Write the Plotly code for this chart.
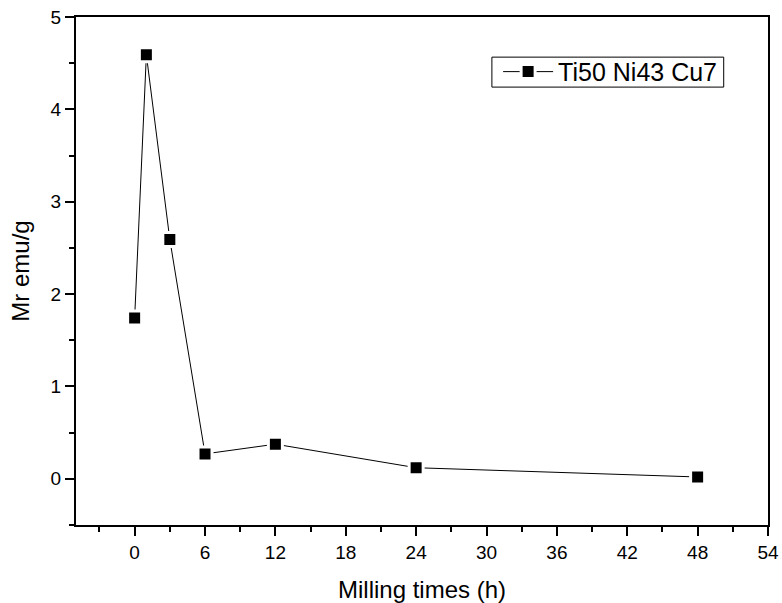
import plotly.graph_objects as go

# Remanent magnetisation vs. milling time
milling_h = [0, 1, 3, 6, 12, 24, 48]
mr_emu_g = [1.74, 4.59, 2.59, 0.27, 0.375, 0.12, 0.02]
series_name = "Ti50 Ni43 Cu7"

x_ticks = [0, 6, 12, 18, 24, 30, 36, 42, 48, 54]
y_ticks = [0, 1, 2, 3, 4, 5]
x_range = [-5, 54]
y_range = [-0.5, 5]

FONT = "Liberation Sans, Arial, sans-serif"

fig = go.Figure()
fig.add_trace(go.Scatter(
    x=milling_h, y=mr_emu_g, name=series_name,
    mode="lines+markers",
    line=dict(color="black", width=1),
    marker=dict(symbol="square", size=14, color="black",
                line=dict(color="white", width=3)),
    showlegend=True,
))

axis_common = dict(
    showline=True, linecolor="black", linewidth=2,
    showgrid=False, zeroline=False, automargin=False,
    ticks="outside", ticklen=9, tickwidth=2, tickcolor="black",
    tickfont=dict(family=FONT, size=19, color="black"),
)

fig.update_layout(
    width=782, height=603,
    margin=dict(l=76, r=14, t=17, b=78),
    paper_bgcolor="white", plot_bgcolor="white",
    font=dict(family=FONT, color="black"),
    xaxis=dict(
        **axis_common,
        range=x_range, tickvals=x_ticks, ticktext=[str(v) for v in x_ticks],
        minor=dict(dtick=3, tick0=0, ticks="outside", ticklen=5,
                   tickwidth=2, tickcolor="black"),
        mirror=True,
        title=dict(text="Milling times (h)", font=dict(family=FONT, size=24),
                   standoff=20),
    ),
    yaxis=dict(
        **axis_common,
        range=y_range, tickvals=y_ticks, ticktext=[str(v) for v in y_ticks],
        minor=dict(dtick=0.5, tick0=0, ticks="outside", ticklen=5,
                   tickwidth=2, tickcolor="black"),
        mirror=True,
        title=dict(text="Mr emu/g", font=dict(family=FONT, size=24),
                   standoff=14),
    ),
    xaxis2=dict(
        overlaying="x", side="top", anchor="y", range=x_range,
        showline=False, showgrid=False, zeroline=False, automargin=False,
        tickvals=x_ticks, showticklabels=False,
        ticks="inside", ticklen=3, tickwidth=1, tickcolor="black",
        minor=dict(dtick=3, tick0=0, ticks="inside", ticklen=3,
                   tickwidth=1, tickcolor="black"),
    ),
    yaxis2=dict(
        overlaying="y", side="right", anchor="x", range=y_range,
        showline=False, showgrid=False, zeroline=False, automargin=False,
        tickvals=y_ticks, showticklabels=False,
        ticks="outside", ticklen=3, tickwidth=1, tickcolor="black",
        minor=dict(dtick=0.5, tick0=0, ticks="outside", ticklen=3,
                   tickwidth=1, tickcolor="black"),
    ),
    legend=dict(
        x=0.61, y=0.892, xanchor="left", yanchor="middle",
        bgcolor="rgba(0,0,0,0)", borderwidth=0,
        font=dict(family=FONT, size=25, color="black"),
        itemwidth=50,
    ),
    shapes=[dict(
        type="rect", xref="paper", yref="paper",
        x0=0.601, x1=0.936, y0=0.862, y1=0.921,
        line=dict(color="black", width=1), fillcolor="rgba(0,0,0,0)",
        layer="above",
    )],
)

fig.write_html("out.html")
